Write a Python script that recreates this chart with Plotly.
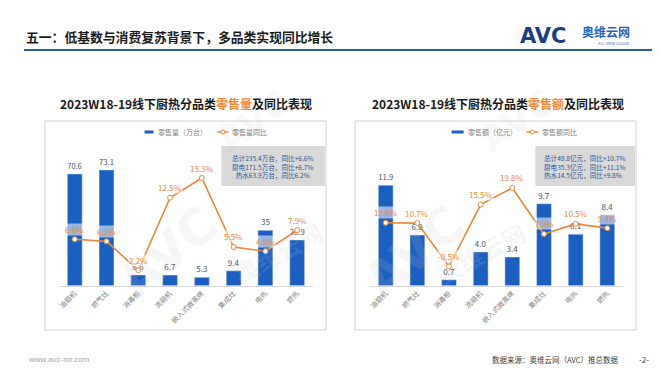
import plotly.graph_objects as go

categories = ["油烟机", "燃气灶", "消毒柜", "洗碗机", "嵌入式微蒸烤", "集成灶", "电热", "燃热"]
vol_values = [70.6, 73.1, 6.8, 6.7, 5.3, 9.4, 35, 28.9]
vol_yoy = [6.6, 6.3, 2.2, 12.5, 15.3, 5.5, 4.9, 7.9]
amt_values = [11.9, 6.0, 0.7, 4.0, 3.4, 9.7, 6.1, 8.4]
amt_yoy = [10.8, 10.7, -0.5, 15.5, 19.8, 7.9, 10.5, 9.4]

vol_summary = ["总计235.4万台，同比+6.6%", "厨电171.5万台，同比+6.7%", "热水63.9万台，同比6.2%"]
amt_summary = ["总计49.8亿元，同比+10.7%", "厨电35.3亿元，同比+11.1%", "热水14.5亿元，同比+9.8%"]

W, H = 660, 372
BLUE = "#1b5fc1"
ORANGE = "#e8873a"
FONT = "Noto Sans CJK SC"

def px(x):
    return x / W

def py(y):
    return 1 - y / H

fig = go.Figure()

fig.add_trace(go.Bar(x=categories, y=vol_values, text=[str(v) for v in vol_values],
                     textposition="outside", cliponaxis=False,
                     textfont=dict(size=8, color="#44546a", family=FONT),
                     marker=dict(color=BLUE), width=0.47, xaxis="x", yaxis="y", showlegend=False))
fig.add_trace(go.Scatter(x=categories, y=vol_yoy, mode="lines+markers", cliponaxis=False,
                         line=dict(color=ORANGE, width=1.6),
                         marker=dict(symbol="circle", size=5, color="white", line=dict(color=ORANGE, width=1)),
                         xaxis="x", yaxis="y2", showlegend=False))
fig.add_trace(go.Bar(x=categories, y=amt_values, text=[f"{v:.1f}" for v in amt_values],
                     textposition="outside", cliponaxis=False,
                     textfont=dict(size=8, color="#44546a", family=FONT),
                     marker=dict(color=BLUE), width=0.47, xaxis="x2", yaxis="y3", showlegend=False))
fig.add_trace(go.Scatter(x=categories, y=amt_yoy, mode="lines+markers", cliponaxis=False,
                         line=dict(color=ORANGE, width=1.6),
                         marker=dict(symbol="circle", size=5, color="white", line=dict(color=ORANGE, width=1)),
                         xaxis="x2", yaxis="y4", showlegend=False))

annotations = []

# faint watermarks
WM = "rgba(200,200,200,0.16)"
for x0 in (35, 346):
    annotations.append(dict(x=px(x0 + 60), y=py(305), xref="paper", yref="paper", text="<b>AVC</b>",
                            showarrow=False, textangle=-40, font=dict(size=50, color=WM, family="DejaVu Sans")))
    annotations.append(dict(x=px(x0 + 180), y=py(285), xref="paper", yref="paper", text="<b>奥维云网</b>",
                            showarrow=False, textangle=-28, font=dict(size=24, color=WM, family=FONT)))
    annotations.append(dict(x=px(x0 + 210), y=py(70), xref="paper", yref="paper", text="<b>AVC</b>",
                            showarrow=False, textangle=-35, font=dict(size=36, color="rgba(200,200,200,0.14)",
                                                                       family="DejaVu Sans")))

for c, v in zip(categories, vol_yoy):
    annotations.append(dict(x=c, y=v, xref="x", yref="y2", text=f"{v}%", showarrow=False, yshift=10,
                            font=dict(size=8, color=ORANGE, family=FONT), bgcolor="rgba(255,255,255,0.55)",
                            borderpad=0))
for c, v in zip(categories, amt_yoy):
    annotations.append(dict(x=c, y=v, xref="x2", yref="y4", text=f"{v}%", showarrow=False, yshift=10,
                            font=dict(size=8, color=ORANGE, family=FONT), bgcolor="rgba(255,255,255,0.55)",
                            borderpad=0))

ydom = [py(277.7), py(151)]
xaxis_common = dict(showline=True, linecolor="#d9d9d9", linewidth=1, ticks="", tickangle=-45,
                    tickfont=dict(size=7, color="#7f7f7f", family=FONT), showgrid=False, fixedrange=True)
yaxis_common = dict(visible=False, showgrid=False, fixedrange=True)

shapes = []
# title underline
shapes.append(dict(type="line", xref="paper", yref="paper", x0=px(14), x1=px(646), y0=py(42), y1=py(42),
                   line=dict(color="#2e5c99", width=2)))
# chart boxes
for x0, x1 in [(35, 317), (346, 628)]:
    shapes.append(dict(type="rect", xref="paper", yref="paper", x0=px(x0), x1=px(x1), y0=py(322), y1=py(113),
                       line=dict(color="#d0d0d0", width=1), fillcolor="rgba(0,0,0,0)", layer="below"))
# summary boxes
for x0, x1 in [(212, 316), (527, 627)]:
    shapes.append(dict(type="rect", xref="paper", yref="paper", x0=px(x0), x1=px(x1), y0=py(178), y1=py(138),
                       line=dict(width=0), fillcolor="#d9d9d9", layer="below"))
# legends
for (bx0, bx1, ox0, ox1) in [(135, 144, 208, 219), (443, 455, 518, 530)]:
    shapes.append(dict(type="line", xref="paper", yref="paper", x0=px(bx0), x1=px(bx1), y0=py(124), y1=py(124),
                       line=dict(color=BLUE, width=3)))
    shapes.append(dict(type="line", xref="paper", yref="paper", x0=px(ox0), x1=px(ox1), y0=py(124), y1=py(124),
                       line=dict(color=ORANGE, width=1.5)))
    cx = (ox0 + ox1) / 2
    shapes.append(dict(type="circle", xref="paper", yref="paper", x0=px(cx - 2), x1=px(cx + 2),
                       y0=py(126), y1=py(122), line=dict(color=ORANGE, width=1), fillcolor="white"))

def ptext(x, y, text, size, color, xanchor="left", bold=False, family=FONT):
    return dict(x=px(x), y=py(y), xref="paper", yref="paper", text=f"<b>{text}</b>" if bold else text,
                showarrow=False, xanchor=xanchor, yanchor="middle",
                font=dict(size=size, color=color, family=family))

annotations.append(ptext(14, 28, "五一：低基数与消费复苏背景下，多品类实现同比增长", 12.8, "#1a1a1a", bold=True))
annotations.append(ptext(510, 28, "AVC", 21, "#1c3f80", bold=True, family="DejaVu Sans"))
annotations.append(ptext(572, 24, "奥维云网", 12, "#2a63b8", bold=True))
annotations.append(ptext(588, 35, "ALL VIEW CLOUD", 4, "#2a63b8"))

annotations.append(ptext(177, 95, "2023W18-19线下厨热分品类<span style='color:#f08a3c'>零售量</span>及同比表现",
                         12, "#1a1a1a", xanchor="center", bold=True))
annotations.append(ptext(489, 95, "2023W18-19线下厨热分品类<span style='color:#f08a3c'>零售额</span>及同比表现",
                         12, "#1a1a1a", xanchor="center", bold=True))

annotations.append(ptext(146, 124, "零售量（万台）", 7, "#7f7f7f"))
annotations.append(ptext(221, 124, "零售量同比", 7, "#7f7f7f"))
annotations.append(ptext(457, 124, "零售额（亿元）", 7, "#7f7f7f"))
annotations.append(ptext(532, 124, "零售额同比", 7, "#7f7f7f"))

annotations.append(dict(x=px(264), y=py(158), xref="paper", yref="paper", text="<br>".join(vol_summary),
                        showarrow=False, xanchor="center", yanchor="middle", align="center",
                        font=dict(size=6.6, color="#2f5597", family=FONT)))
annotations.append(dict(x=px(577), y=py(158), xref="paper", yref="paper", text="<br>".join(amt_summary),
                        showarrow=False, xanchor="center", yanchor="middle", align="left",
                        font=dict(size=6.6, color="#2f5597", family=FONT)))

annotations.append(ptext(16, 351, "www.avc-mr.com", 8, "#a6a6a6", family="Liberation Sans"))
annotations.append(ptext(612, 351, "数据来源：奥维云网（AVC）推总数据", 7.5, "#404040", xanchor="right"))
annotations.append(ptext(636, 351, "-2-", 8, "#404040", xanchor="center"))

fig.update_layout(
    width=W, height=H, margin=dict(l=0, r=0, t=0, b=0),
    paper_bgcolor="white", plot_bgcolor="rgba(0,0,0,0)",
    font=dict(family=FONT),
    xaxis=dict(domain=[px(49), px(304)], anchor="y", **xaxis_common),
    yaxis=dict(domain=ydom, range=[0, 80], anchor="x", **yaxis_common),
    yaxis2=dict(range=[0, 18], overlaying="y", anchor="x", **yaxis_common),
    xaxis2=dict(domain=[px(361), px(615)], anchor="y3", **xaxis_common),
    yaxis3=dict(domain=ydom, range=[0, 15], anchor="x2", **yaxis_common),
    yaxis4=dict(range=[-5.5, 27.3], overlaying="y3", anchor="x2", **yaxis_common),
    shapes=shapes, annotations=annotations, bargap=0.5,
)

fig.write_html("out.html")
